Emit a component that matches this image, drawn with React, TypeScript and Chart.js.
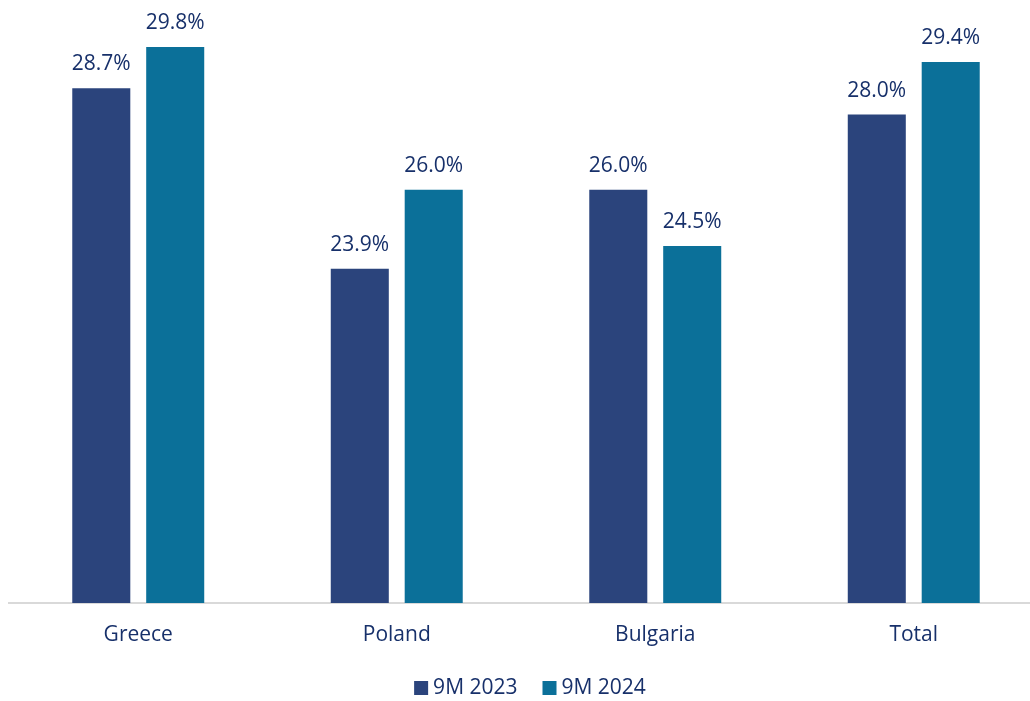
import React, { useEffect, useRef } from "react";
import { Chart, registerables } from "chart.js";

Chart.register(...registerables);

const categories = ["Greece", "Poland", "Bulgaria", "Total"];
const series2023 = [28.7, 23.9, 26.0, 28.0];
const series2024 = [29.8, 26.0, 24.5, 29.4];
const seriesNames = ["9M 2023", "9M 2024"];
const colors = ["#2B447C", "#0B7099"];
const textColor = "#17306A";
const FONT = "'Open Sans', 'Noto Sans', sans-serif";
const FONT_SIZE = 21;

const labelPlugin = {
  id: "valueLabels",
  afterDatasetsDraw(chart: any) {
    const ctx = chart.ctx;
    ctx.save();
    ctx.font = `${FONT_SIZE}px ${FONT}`;
    ctx.fillStyle = textColor;
    ctx.textAlign = "center";
    ctx.textBaseline = "middle";
    chart.data.datasets.forEach((ds: any, i: number) => {
      const meta = chart.getDatasetMeta(i);
      meta.data.forEach((bar: any, j: number) => {
        ctx.fillText(ds.data[j].toFixed(1) + "%", bar.x, bar.y - 24);
      });
    });
    ctx.restore();
  },
};

const legendPlugin = {
  id: "customLegend",
  afterDraw(chart: any) {
    const ctx = chart.ctx;
    ctx.save();
    ctx.font = `${FONT_SIZE}px ${FONT}`;
    ctx.textBaseline = "middle";
    const y = 688;
    const box = 14;
    const gapBoxText = 5;
    const gapItems = 25;
    const widths = seriesNames.map((n) => box + gapBoxText + ctx.measureText(n).width);
    const total = widths.reduce((a, b) => a + b, 0) + gapItems * (seriesNames.length - 1);
    let x = 530 - total / 2;
    seriesNames.forEach((n, i) => {
      ctx.fillStyle = colors[i];
      ctx.fillRect(x, y - box / 2, box, box);
      ctx.fillStyle = textColor;
      ctx.textAlign = "left";
      ctx.fillText(n, x + box + gapBoxText, y);
      x += widths[i] + gapItems;
    });
    ctx.restore();
  },
};

export default function App() {
  const ref = useRef<HTMLCanvasElement>(null);
  useEffect(() => {
    document.body.style.margin = "0";
    const chart = new Chart(ref.current!, {
      type: "bar",
      data: {
        labels: categories,
        datasets: [
          { label: seriesNames[0], data: series2023, backgroundColor: colors[0] },
          { label: seriesNames[1], data: series2024, backgroundColor: colors[1] },
        ],
      },
      options: {
        animation: false,
        responsive: false,
        maintainAspectRatio: false,
        layout: { padding: { left: 9, right: 2, top: 0, bottom: 0 } },
        datasets: { bar: { categoryPercentage: 0.572, barPercentage: 0.785 } },
        plugins: { legend: { display: false }, tooltip: { enabled: false } },
        scales: {
          x: {
            grid: { display: false, drawTicks: false },
            border: { color: "#D9D9D9", width: 2 },
            ticks: { color: textColor, font: { family: FONT, size: FONT_SIZE }, padding: 19 },
            afterFit(scale: any) {
              scale.height = 98;
            },
          },
          y: { display: false, min: 15, max: 31.05 },
        },
      },
      plugins: [labelPlugin, legendPlugin],
    });
    return () => chart.destroy();
  }, []);
  return (
    <div style={{ width: 1030, height: 701, overflow: "hidden", position: "relative" }}>
      <canvas ref={ref} width={1045} height={701} style={{ display: "block" }} />
    </div>
  );
}
